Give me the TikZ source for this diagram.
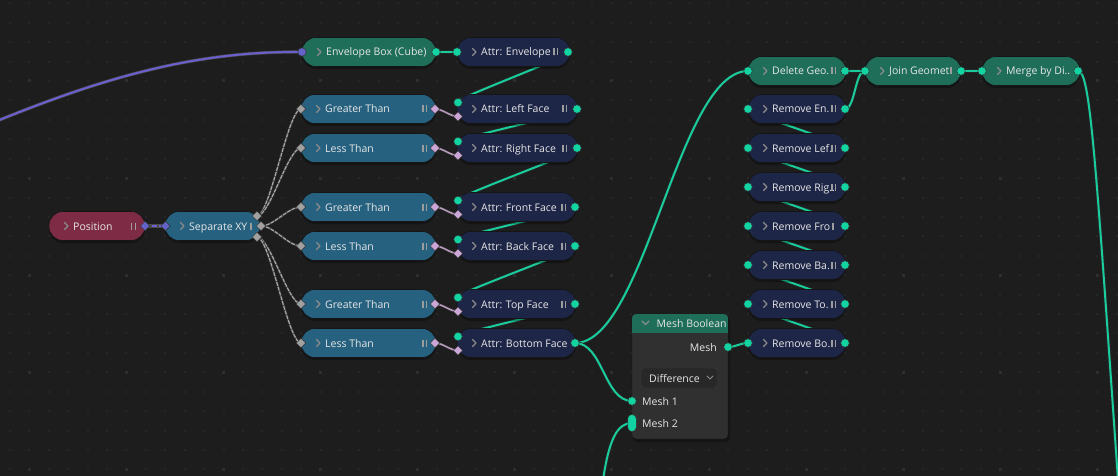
\documentclass[tikz,border=0pt]{standalone}
\usepackage{fontspec}
\setmainfont{Open Sans}
\usetikzlibrary{shapes.geometric}
\definecolor{bgc}{HTML}{1D1D1D}
\definecolor{dotc}{HTML}{262626}
\definecolor{bigdot}{HTML}{2E2E2E}
\definecolor{cgreen}{HTML}{1F6E5A}
\definecolor{cnavy}{HTML}{1E2648}
\definecolor{cblue}{HTML}{266280}
\definecolor{cmaroon}{HTML}{7E2C45}
\definecolor{wgreen}{HTML}{19CC9C}
\definecolor{sgreen}{HTML}{12D4A2}
\definecolor{spink}{HTML}{CCA6D6}
\definecolor{sgray}{HTML}{A1A1A1}
\definecolor{spurple}{HTML}{6363C7}
\definecolor{wpurple}{HTML}{6B5FD0}
\definecolor{txt}{HTML}{E6E6E6}
\definecolor{chevc}{HTML}{8C8C8C}
\definecolor{mbody}{HTML}{303030}
\definecolor{ddfill}{HTML}{282828}
\definecolor{ddline}{HTML}{3D3D3D}
\definecolor{nborder}{HTML}{151515}
\pgfdeclarelayer{bgl}\pgfdeclarelayer{wl}\pgfsetlayers{bgl,wl,main}
\tikzset{
 pill/.style={draw=nborder, line width=0.6pt, rounded corners=14pt, minimum height=29pt, inner sep=0pt},
 lbl/.style={text=txt, font=\fontsize{10.5}{13}\selectfont, inner sep=0pt, anchor=base west},
 chev/.style={draw=chevc, line width=1.1pt, line cap=round, line join=round},
 bars/.style={draw=chevc!85, line width=1.2pt},
 gsock/.style={circle, fill=sgreen, draw=black!80, line width=0.5pt, minimum size=8.5pt, inner sep=0pt},
 capsock/.style={rectangle, rounded corners=4pt, fill=sgreen, draw=black!80, line width=0.5pt, minimum width=8.5pt, minimum height=17pt, inner sep=0pt},
 psock/.style={circle, fill=spurple, draw=black!80, line width=0.5pt, minimum size=8.5pt, inner sep=0pt},
 vsock/.style={diamond, fill=spurple, draw=black!80, line width=0.5pt, minimum width=9.5pt, minimum height=9.5pt, inner sep=0pt},
 fsock/.style={diamond, fill=sgray, draw=black!80, line width=0.5pt, minimum width=9.5pt, minimum height=9.5pt, inner sep=0pt},
 bsock/.style={diamond, fill=spink, draw=black!80, line width=0.5pt, minimum width=9.5pt, minimum height=9.5pt, inner sep=0pt},
 gwire/.style={draw=wgreen, line width=2pt, preaction={draw=black!85, line width=3.4pt}},
 pwire/.style={draw=wpurple, line width=2pt, preaction={draw=black!70, line width=3.2pt}},
 fwire/.style={draw=sgray!95, line width=1.2pt, dash pattern=on 4pt off 1pt, preaction={draw=black!80, line width=2.4pt, solid}},
 bwire/.style={draw=spink!75!gray, line width=1.5pt, preaction={draw=black!80, line width=2.6pt}},
}
\newcommand\bnode[6]{%
 \pgfmathsetmacro\bw{#3-#2}%
 \pgfmathsetmacro\bcx{(#2+#3)/2}%
 \fill[black,opacity=0.3,rounded corners=14pt] ({#2},{#4-12.5}) rectangle ({#3},{#4+17});
 \node[pill,fill=#5,minimum width=\bw pt] (#1) at (\bcx,#4) {};
 \draw[chev] ({#2+15.5},{#4-3.5}) -- ({#2+19},{#4}) -- ({#2+15.5},{#4+3.5});
 \node[lbl] (#1-t) at ({#2+24},{#4+4}) {#6};
}
\newcommand\bbars[2]{\draw[bars] ({#1},{#2-3.5}) -- ({#1},{#2+3.5}) ({#1+3.6},{#2-3.5}) -- ({#1+3.6},{#2+3.5});}
\newcommand\bbar[2]{\draw[bars] ({#1},{#2-3.5}) -- ({#1},{#2+3.5});}
\begin{document}
\begin{tikzpicture}[x=1pt,y=-1pt]
\useasboundingbox (0,0) rectangle (1118,476);
\begin{pgfonlayer}{bgl}
\fill[bgc] (-5,-5) rectangle (1125,480);
\foreach \i in {-1,...,56}{\foreach \j in {-4,...,20}{\fill[dotc] ({29.3+19.42*\i-1},{81+19.42*\j-1}) rectangle +(2,2);}}
\foreach \i in {0,...,11}{\foreach \j in {-1,...,4}{\fill[bigdot] ({29.3+97.1*\i-1.5},{81+97.1*\j-1.5}) rectangle +(3,3);}}
\end{pgfonlayer}

% ---- nodes
\bnode{pos}{49}{145}{226}{cmaroon}{Position}\bbars{131.5}{226}
\bnode{sep}{165}{260}{226}{cblue}{Separate XY}\bbar{251}{226}
\bnode{env}{302}{436}{52}{cgreen}{Envelope Box (Cube)}
\bnode{aenv}{457}{570}{52}{cnavy}{Attr: Envelope .}\bbars{554}{52}

\bnode{gtx}{301}{436}{109}{cblue}{Greater Than}\bbars{423}{109}
\bnode{ltx}{301}{436}{148}{cblue}{Less Than}\bbars{423}{148}
\bnode{gty}{301}{436}{207}{cblue}{Greater Than}\bbars{423}{207}
\bnode{lty}{301}{436}{246}{cblue}{Less Than}\bbars{423}{246}
\bnode{gtz}{301}{436}{304}{cblue}{Greater Than}\bbars{423}{304}
\bnode{ltz}{301}{436}{343}{cblue}{Less Than}\bbars{423}{343}

\bnode{ax1}{457}{578}{109}{cnavy}{Attr: Left Face}\bbars{563}{109}
\bnode{ax2}{457}{578}{148}{cnavy}{Attr: Right Face}\bbars{563}{148}
\bnode{ay1}{457}{576}{207}{cnavy}{Attr: Front Face}\bbars{562}{207}
\bnode{ay2}{457}{576}{246}{cnavy}{Attr: Back Face}\bbars{562}{246}
\bnode{az1}{457}{576}{304}{cnavy}{Attr: Top Face}\bbars{562}{304}
\bnode{az2}{457}{576}{343}{cnavy}{Attr: Bottom Face}

\bnode{del}{748}{846}{71}{cgreen}{Delete Geo.}\bbars{832}{71}
\bnode{join}{865}{961}{71}{cgreen}{Join Geomet}\bbar{951}{71}
\bnode{merge}{982}{1080}{71}{cgreen}{Merge by Di..}

\bnode{r1}{748}{846}{109}{cnavy}{Remove En.}\bbars{832}{109}
\bnode{r2}{748}{846}{148}{cnavy}{Remove Lef.}\bbars{832}{148}
\bnode{r3}{748}{846}{187}{cnavy}{Remove Rig..}\bbars{832}{187}
\bnode{r4}{748}{846}{226}{cnavy}{Remove Fro}\bbar{833}{226}
\bnode{r5}{748}{846}{265}{cnavy}{Remove Ba.}\bbars{832}{265}
\bnode{r6}{748}{846}{304}{cnavy}{Remove To.}\bbars{832}{304}
\bnode{r7}{748}{846}{343}{cnavy}{Remove Bo.}\bbars{832}{343}

% Mesh Boolean
\fill[black,opacity=0.3,rounded corners=4pt] (633,317) rectangle (730,442);
\node[draw=nborder, fill=mbody, rounded corners=4pt, minimum width=96pt, minimum height=125pt, inner sep=0pt] (mb) at (680,376.5) {};
\begin{scope}
\path[clip, rounded corners=4pt] (632,314) rectangle (728,439);
\fill[cgreen] (632,314) rectangle (728,333);
\end{scope}
\draw[chev] (642,321) -- (645.5,324.5) -- (649,321);
\node[lbl] (mb-t) at (656.5,327) {Mesh Boolean};
\node[lbl, anchor=base east] (mb-ot) at (717,351) {Mesh};
\node[draw=ddline, fill=ddfill, rounded corners=3pt, minimum width=76pt, minimum height=20pt, inner sep=0pt] (mbdd) at (679,378) {};
\node[lbl] (mbdd-t) at (649,382) {Difference};
\draw[chev, line width=0.9pt] (707,376) -- (710,379) -- (713,376);
\node[lbl] (mb-1t) at (642,405) {Mesh 1};
\node[lbl] (mb-2t) at (642,427) {Mesh 2};

% ---- sockets
\node[vsock] (pos-o) at (145,226) {};
\node[vsock] (sep-i) at (165.5,226) {};
\node[fsock] (sep-x) at (257,216) {};
\node[fsock] (sep-y) at (261,226) {};
\node[fsock] (sep-z) at (257,237) {};
\node[psock] (env-i) at (302,52) {};
\node[gsock] (env-o) at (436,52) {};
\node[gsock] (aenv-i) at (457,52) {};
\node[gsock] (aenv-o) at (568,52) {};
\foreach \n/\y in {gtx/109,ltx/148,gty/207,lty/246,gtz/304,ltz/343}{
 \node[fsock] (\n-i) at (301,\y) {};
 \node[bsock] (\n-o) at (435,\y) {};
}
\foreach \n/\y/\xo in {ax1/109/577,ax2/148/577,ay1/207/575,ay2/246/575,az1/304/575,az2/343/575}{
 \node[gsock] (\n-g) at (458,\y-6.5) {};
 \node[bsock] (\n-s) at (458,\y+7.5) {};
 \node[gsock] (\n-o) at (\xo,\y) {};
}
\foreach \n/\y in {del/71,r1/109,r2/148,r3/187,r4/226,r5/265,r6/304,r7/343}{
 \node[gsock] (\n-i) at (748,\y) {};
 \node[gsock] (\n-o) at (845,\y) {};
}
\node[gsock] (join-i) at (865,71) {};
\node[gsock] (join-o) at (961,71) {};
\node[gsock] (merge-i) at (982,71) {};
\node[gsock] (merge-o) at (1078,71) {};
\node[gsock] (mb-o) at (728,347) {};
\node[gsock] (mb-1) at (632,401) {};
\node[capsock] (mb-2) at (632,423) {};
\coordinate (pw0) at (-3,121);
\coordinate (m2src) at (603,480);
\coordinate (mgdst) at (1118,480);

% ---- wires
\begin{pgfonlayer}{wl}
\draw[pwire] (pw0) .. controls (110,75) and (200,51) .. (env-i.center);
\draw[pwire, dash pattern=on 5pt off 2pt] (pos-o.center) -- (sep-i.center);
\foreach \a/\b in {sep-x/gtx-i,sep-x/ltx-i,sep-y/gty-i,sep-y/lty-i,sep-z/gtz-i,sep-z/ltz-i}
 \draw[fwire] (\a.center) .. controls +(13,0) and +(-13,0) .. (\b.center);
\foreach \a/\b in {gtx-o/ax1-s,ltx-o/ax2-s,gty-o/ay1-s,lty-o/ay2-s,gtz-o/az1-s,ltz-o/az2-s}
 \draw[bwire] (\a.center) .. controls +(8,0) and +(-8,0) .. (\b.center);
\draw[gwire] (env-o.center) -- (aenv-i.center);
\foreach \a/\b in {aenv-o/ax1-g,ax1-o/ax2-g,ax2-o/ay1-g,ay1-o/ay2-g,ay2-o/az1-g,az1-o/az2-g}
 \draw[gwire] (\a.center) .. controls +(14,0) and +(-14,0) .. (\b.center);
\draw[gwire] (az2-o.center) .. controls +(70,0) and +(-70,0) .. (del-i.center);
\draw[gwire] (az2-o.center) .. controls +(28,0) and +(-28,0) .. (mb-1.center);
\draw[gwire] (m2src) .. controls +(6,-40) and +(-15,0) .. (mb-2.center);
\draw[gwire] (mb-o.center) .. controls +(8,0) and +(-8,0) .. (r7-i.center);
\foreach \a/\b in {r7-o/r6-i,r6-o/r5-i,r5-o/r4-i,r4-o/r3-i,r3-o/r2-i,r2-o/r1-i}
 \draw[gwire] (\a.center) .. controls +(14,0) and +(-14,0) .. (\b.center);
\draw[gwire] (r1-o.center) .. controls +(10,0) and +(-10,0) .. (join-i.center);
\draw[gwire] (del-o.center) -- (join-i.center);
\draw[gwire] (join-o.center) -- (merge-i.center);
\draw[gwire] (merge-o.center) .. controls +(12,0) and (1095,150) .. (mgdst);
\end{pgfonlayer}
\end{tikzpicture}
\end{document}
